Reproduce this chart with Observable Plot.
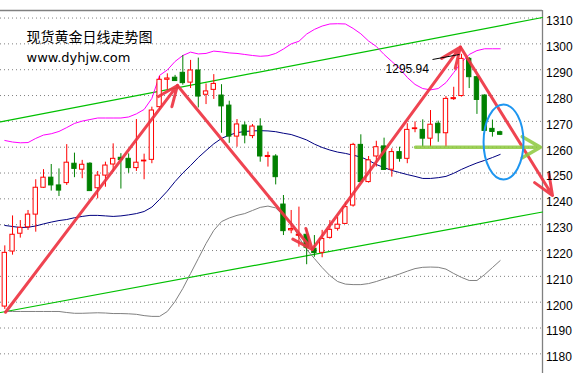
<!DOCTYPE html>
<html><head><meta charset="utf-8">
<script src="https://cdn.jsdelivr.net/npm/d3@7"></script>
<script src="https://cdn.jsdelivr.net/npm/@observablehq/plot@0.6"></script>
<style>body{margin:0;background:#fff;overflow:hidden}</style>
</head><body><div id="chart"></div>
<script>
// Daily candles (index 0..64)
const open  = [1198.3,1219.6,1226.5,1229.0,1233.9,1244.3,1248.2,1245.2,1246.1,1253.6,1251.3,1253.6,1244.1,1249.0,1253.3,1255.9,1255.5,1251.9,1254.5,1255.1,1275.5,1286.1,1286.9,1288.8,1285.0,1289.7,1280.3,1282.2,1280.0,1276.1,1264.1,1268.4,1264.3,1268.0,1256.2,1256.4,1237.8,1227.8,1225.7,1226.1,1220.7,1219.1,1224.9,1228.4,1230.3,1237.4,1260.9,1246.5,1256.4,1260.3,1251.3,1258.1,1255.5,1267.0,1266.7,1263.3,1269.1,1265.4,1278.6,1279.8,1294.2,1287.1,1280.0,1267.1,1265.8];
const high  = [1221.8,1233.4,1231.6,1235.5,1247.4,1251.3,1253.3,1251.6,1261.0,1257.7,1254.9,1254.0,1250.6,1254.2,1261.3,1257.5,1257.4,1270.7,1257.3,1275.5,1287.4,1288.4,1287.8,1295.5,1293.6,1294.5,1284.5,1288.1,1284.2,1277.8,1270.7,1269.7,1268.8,1271.0,1258.1,1257.1,1241.3,1235.5,1236.8,1228.4,1225.8,1227.8,1231.6,1232.9,1238.7,1261.5,1264.8,1256.4,1262.3,1263.5,1259.4,1260.0,1269.1,1269.8,1270.6,1274.2,1270.1,1279.6,1283.2,1295.94,1294.7,1287.5,1280.3,1270.5,1266.2];
const low   = [1197.2,1218.2,1224.8,1227.8,1227.1,1244.0,1243.0,1240.9,1245.2,1248.2,1247.8,1243.0,1240.0,1244.5,1250.3,1243.8,1249.9,1250.6,1247.4,1253.6,1274.2,1282.2,1285.5,1284.0,1282.7,1275.2,1276.5,1278.5,1265.4,1261.5,1260.0,1261.3,1263.3,1254.2,1252.3,1245.4,1225.8,1226.5,1221.3,1214.5,1217.4,1217.2,1224.4,1227.5,1230.1,1236.8,1246.5,1246.1,1252.3,1251.0,1248.4,1254.2,1253.6,1265.6,1260.0,1260.0,1261.9,1260.0,1278.1,1279.4,1282.7,1272.7,1266.0,1263.9,1264.5];
const close = [1219.1,1226.1,1228.8,1233.9,1244.3,1248.2,1245.2,1243.2,1254.0,1251.6,1253.2,1243.0,1249.0,1252.9,1255.5,1255.0,1251.9,1254.0,1254.8,1274.2,1286.1,1286.6,1285.6,1284.8,1289.7,1279.6,1281.6,1284.5,1275.8,1264.1,1268.8,1264.5,1268.0,1256.4,1256.6,1248.4,1227.5,1228.3,1226.1,1221.1,1219.0,1224.5,1228.0,1230.0,1236.8,1260.9,1246.5,1254.9,1260.0,1251.2,1258.1,1255.5,1266.7,1267.3,1263.3,1268.7,1265.4,1278.7,1279.0,1294.2,1287.1,1278.3,1266.3,1265.9,1264.8];

// Bollinger bands
const bbUpper = [1262.6,1262.0,1261.7,1261.8,1263.4,1264.7,1265.2,1266.1,1267.6,1269.2,1270.1,1270.7,1271.3,1271.3,1271.3,1271.3,1271.7,1272.9,1274.6,1278.9,1287.8,1289.9,1293.2,1295.5,1296.8,1296.1,1296.3,1297.2,1296.9,1296.5,1296.3,1295.9,1295.5,1295.2,1295.4,1296.3,1298.0,1300.0,1301.0,1303.8,1305.6,1306.9,1307.7,1307.8,1307.7,1306.0,1303.9,1301.1,1299.0,1295.9,1293.2,1290.5,1287.0,1284.3,1282.7,1282.2,1282.7,1285.0,1288.9,1292.8,1295.9,1297.4,1298.1,1298.1,1298.1];
const bbMiddle = [1229.7,1229.3,1228.9,1229.0,1229.5,1230.3,1231.0,1231.6,1232.0,1232.7,1233.2,1233.6,1233.6,1233.4,1233.2,1233.4,1233.8,1234.3,1235.1,1236.8,1239.8,1243.0,1246.7,1250.0,1252.9,1256.0,1258.7,1261.3,1263.4,1264.7,1265.6,1266.1,1266.3,1266.4,1266.3,1266.0,1265.4,1264.9,1263.9,1262.8,1261.2,1259.9,1258.9,1258.1,1257.6,1256.9,1256.2,1254.9,1253.3,1252.1,1251.0,1250.2,1249.4,1248.7,1247.9,1247.9,1248.2,1248.7,1249.9,1251.4,1252.7,1253.9,1254.9,1256.0,1257.2];
const bbLower = [1196.4,1196.4,1196.4,1196.4,1196.4,1196.4,1196.4,1196.4,1196.0,1195.7,1195.7,1195.8,1195.9,1195.8,1195.6,1195.6,1195.5,1195.3,1194.8,1194.5,1194.5,1196.4,1200.3,1205.3,1211.1,1216.9,1222.7,1227.8,1231.2,1232.6,1233.6,1234.3,1235.5,1236.7,1237.2,1236.5,1233.6,1231.0,1225.1,1220.4,1216.9,1213.4,1210.3,1208.0,1207.0,1206.8,1206.8,1207.2,1208.0,1209.0,1209.9,1210.9,1212.0,1213.0,1213.5,1213.6,1213.5,1212.8,1211.1,1209.6,1208.4,1208.4,1210.7,1213.4,1216.1];

// Price axis labels
const priceTicks = [1180,1190,1200,1210,1220,1230,1240,1250,1260,1270,1280,1290,1300,1310];

// Annotations (candle index, price)
const channelUpper = [{i:-0.556,p:1269.8},{i:69.47,p:1310.2}];
const channelLower = [{i:-0.556,p:1196.0},{i:69.47,p:1234.9}];
const trendArrows = [
  {x1:0.09, y1:1196.1, x2:22.31, y2:1283.9},
  {x1:22.31, y1:1283.9, x2:39.72, y2:1220.4},
  {x1:39.72, y1:1220.4, x2:58.87, y2:1298.8},
  {x1:58.87, y1:1298.8, x2:70.76, y2:1241.3}
];
const supportArrow = [{x1:53.06, x2:69.21, y:1260}];
const highMarkLine = [{x1:55.26, y1:1293.95, x2:58.75, y2:1295.9}];
const highLabel = [{i:49.19, p:1290.1, text:"1295.94"}];
const focusEllipse = {cx:64.5, cy:1261.8, rxIdx:2.58, ryPrice:14.5};
const titleText = "现货黄金日线走势图";
const siteText = "www.dyhjw.com";

const xDomain = [-0.556, 69.47];
const yDomain = [1172.39, 1312.92];

const candles = open.map((o, i) => ({i, o, h: high[i], l: low[i], c: close[i], up: close[i] >= o}));
const band = arr => arr.map((v, i) => ({i, v}));
const RED = "#ff0000", GREEN = "#008000";

function ellipseMark(index, scales) {
  const sx = scales.x, sy = scales.y;
  const cx = sx(focusEllipse.cx), cy = sy(focusEllipse.cy);
  const rx = Math.abs(sx(focusEllipse.cx + focusEllipse.rxIdx) - cx);
  const ry = Math.abs(sy(focusEllipse.cy + focusEllipse.ryPrice) - cy);
  return d3.create("svg:ellipse")
    .attr("cx", cx).attr("cy", cy).attr("rx", rx).attr("ry", ry)
    .attr("fill", "none").attr("stroke", "#1e96f0").attr("stroke-width", 2)
    .node();
}

const chart = Plot.plot({
  width: 577, height: 373,
  marginLeft: 0, marginRight: 35, marginTop: 10, marginBottom: 0,
  style: {background: "#fff", fontFamily: "Liberation Sans, Arial, sans-serif", overflow: "visible"},
  x: {type: "linear", domain: xDomain, axis: null},
  y: {domain: yDomain, axis: null},
  marks: [
    Plot.ruleY(priceTicks, {stroke: "#808080", strokeDasharray: "1,3", strokeWidth: 1}),
    Plot.ruleY([yDomain[1]], {stroke: "#808080", strokeWidth: 1.3}),
    Plot.ruleX([xDomain[1]], {stroke: "#808080", strokeWidth: 1.3}),
    Plot.line(channelUpper, {x: "i", y: "p", stroke: "#00c000", strokeWidth: 1.2}),
    Plot.line(channelLower, {x: "i", y: "p", stroke: "#00c000", strokeWidth: 1.2}),
    Plot.line(band(bbUpper), {x: "i", y: "v", stroke: "#ff00ff", strokeWidth: 1}),
    Plot.line(band(bbMiddle), {x: "i", y: "v", stroke: "#000080", strokeWidth: 1}),
    Plot.line(band(bbLower), {x: "i", y: "v", stroke: "#808080", strokeWidth: 1}),
    Plot.ruleX(candles, {x: "i", y1: "l", y2: "h", stroke: d => d.up ? RED : GREEN, strokeWidth: 1}),
    Plot.rect(candles, {
      x1: d => d.i - 0.28, x2: d => d.i + 0.28,
      y1: d => Math.min(d.o, d.c), y2: d => Math.max(d.o, d.c),
      fill: d => d.up ? "#ffffff" : GREEN, stroke: d => d.up ? RED : GREEN, strokeWidth: 1
    }),
    Plot.arrow(trendArrows, {x1: "x1", y1: "y1", x2: "x2", y2: "y2",
      stroke: "#ee3442", strokeOpacity: 0.92, strokeWidth: 3, headLength: 11, headAngle: 45}),
    Plot.arrow(supportArrow, {x1: "x1", y1: "y", x2: "x2", y2: "y",
      stroke: "#8cc83c", strokeOpacity: 0.85, strokeWidth: 3.5, headLength: 9, headAngle: 60}),
    ellipseMark,
    Plot.link(highMarkLine, {x1: "x1", y1: "y1", x2: "x2", y2: "y2", stroke: "#000", strokeWidth: 1}),
    Plot.text(highLabel, {x: "i", y: "p", text: "text", textAnchor: "start", fontSize: 12,
      fontFamily: "Liberation Sans, Arial, sans-serif", fill: "#000"}),
    Plot.text(priceTicks, {x: xDomain[1], y: d => d, text: d => String(d), textAnchor: "start",
      dx: 3.5, dy: 3.5, fontSize: 12, fontFamily: "Liberation Sans, Arial, sans-serif", fill: "#000"}),
    Plot.text([titleText], {frameAnchor: "top-left", text: d => d, textAnchor: "start", dx: 26, dy: 22,
      fontSize: 14, fontFamily: "Noto Sans CJK SC, sans-serif", fill: "#000"}),
    Plot.text([siteText], {frameAnchor: "top-left", text: d => d, textAnchor: "start", dx: 26, dy: 42.5,
      fontSize: 13, fontFamily: "DejaVu Sans, sans-serif", fill: "#000"})
  ]
});
document.getElementById("chart").append(chart);
</script>
</body></html>
